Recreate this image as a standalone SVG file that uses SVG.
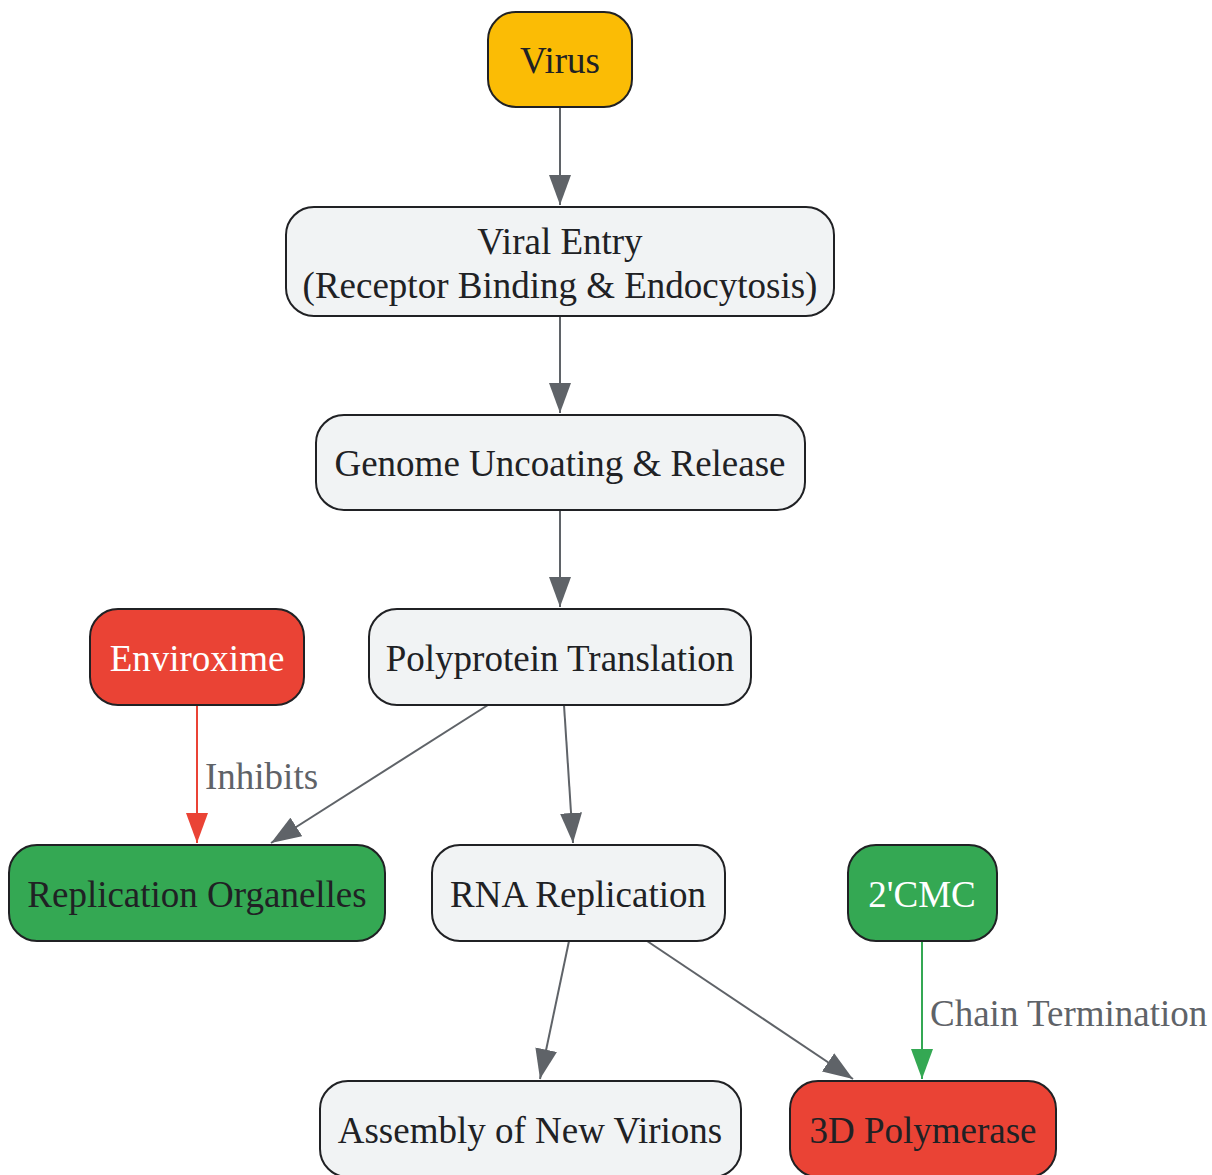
<svg xmlns="http://www.w3.org/2000/svg" width="1212" height="1175" viewBox="0 0 1212 1175">
<defs>
<style>
.n rect{stroke:#202124;stroke-width:2}
.n text{font-family:"Liberation Serif",serif;font-size:37px;text-anchor:middle;dominant-baseline:central;fill:#202124}
.n text.w{fill:#ffffff}
.e{fill:none;stroke-width:2}
.g{stroke:#5F6368}
.r{stroke:#EA4335}
.gr{stroke:#34A853}
.lbl{font-family:"Liberation Serif",serif;font-size:37px;fill:#5F6368}
</style>
<marker id="ag" markerUnits="userSpaceOnUse" markerWidth="30" markerHeight="22" refX="30" refY="11" orient="auto"><path d="M0,0 L30,11 L0,22 z" fill="#5F6368"/></marker>
<marker id="ar" markerUnits="userSpaceOnUse" markerWidth="30" markerHeight="22" refX="30" refY="11" orient="auto"><path d="M0,0 L30,11 L0,22 z" fill="#EA4335"/></marker>
<marker id="agr" markerUnits="userSpaceOnUse" markerWidth="30" markerHeight="22" refX="30" refY="11" orient="auto"><path d="M0,0 L30,11 L0,22 z" fill="#34A853"/></marker>
</defs>
<rect width="1212" height="1175" fill="#ffffff"/>
<g id="edges">
<line class="e g" x1="560" y1="107" x2="560" y2="205" marker-end="url(#ag)"/>
<line class="e g" x1="560" y1="316" x2="560" y2="413" marker-end="url(#ag)"/>
<line class="e g" x1="560" y1="510" x2="560" y2="607" marker-end="url(#ag)"/>
<line class="e g" x1="488" y1="705" x2="271" y2="843" marker-end="url(#ag)"/>
<line class="e g" x1="564" y1="705" x2="573" y2="843" marker-end="url(#ag)"/>
<line class="e r" x1="197" y1="705" x2="197" y2="843" marker-end="url(#ar)"/>
<line class="e g" x1="569" y1="941" x2="540" y2="1079" marker-end="url(#ag)"/>
<line class="e g" x1="647" y1="941" x2="853" y2="1079" marker-end="url(#ag)"/>
<line class="e gr" x1="922" y1="941" x2="922" y2="1079" marker-end="url(#agr)"/>
<text class="lbl" x="205" y="789">Inhibits</text>
<text class="lbl" x="930" y="1026">Chain Termination</text>
</g>
<g id="virus" class="n"><rect x="488" y="12" width="144" height="95" rx="28" fill="#FBBC05"/><text x="560" y="60">Virus</text></g>
<g id="entry" class="n"><rect x="286" y="207" width="548" height="109" rx="28" fill="#F1F3F4"/><text x="560" y="241">Viral Entry</text><text x="560" y="285">(Receptor Binding &amp; Endocytosis)</text></g>
<g id="uncoating" class="n"><rect x="316" y="415" width="489" height="95" rx="28" fill="#F1F3F4"/><text x="560" y="463">Genome Uncoating &amp; Release</text></g>
<g id="polyprotein" class="n"><rect x="369" y="609" width="382" height="96" rx="28" fill="#F1F3F4"/><text x="560" y="658">Polyprotein Translation</text></g>
<g id="enviroxime" class="n"><rect x="90" y="609" width="214" height="96" rx="28" fill="#EA4335"/><text class="w" x="197" y="658">Enviroxime</text></g>
<g id="organelles" class="n"><rect x="9" y="845" width="376" height="96" rx="28" fill="#34A853"/><text x="197" y="894">Replication Organelles</text></g>
<g id="rna" class="n"><rect x="432" y="845" width="293" height="96" rx="28" fill="#F1F3F4"/><text x="578" y="894">RNA Replication</text></g>
<g id="cmc" class="n"><rect x="848" y="845" width="149" height="96" rx="28" fill="#34A853"/><text class="w" x="922" y="894">2'CMC</text></g>
<g id="assembly" class="n"><rect x="320" y="1081" width="421" height="96" rx="28" fill="#F1F3F4"/><text x="530" y="1130">Assembly of New Virions</text></g>
<g id="polymerase" class="n"><rect x="790" y="1081" width="266" height="96" rx="28" fill="#EA4335"/><text x="923" y="1130">3D Polymerase</text></g>
</svg>
